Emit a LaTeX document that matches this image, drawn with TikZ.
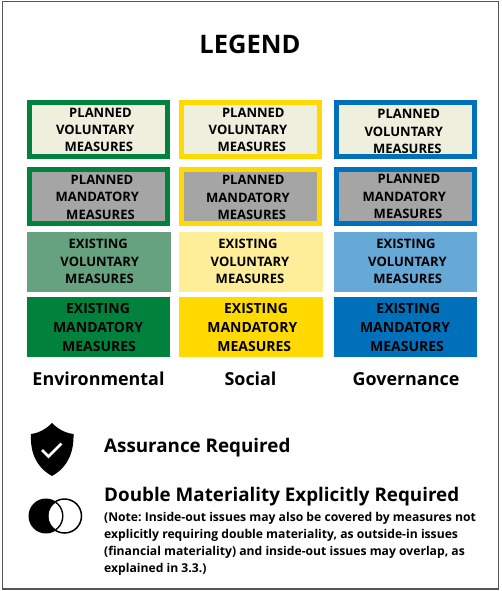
\documentclass[tikz,border=0pt]{standalone}
\usepackage{fontspec}
\setmainfont{Open Sans}
\usetikzlibrary{calc}
\definecolor{envgreen}{HTML}{00823C}
\definecolor{socyellow}{HTML}{FFD900}
\definecolor{govblue}{HTML}{0070BA}
\definecolor{envlight}{HTML}{66A27F}
\definecolor{soclight}{HTML}{FFEE99}
\definecolor{govlight}{HTML}{66A8D6}
\definecolor{cream}{HTML}{EFEFDE}
\definecolor{planfill}{HTML}{A5A5A5}
\definecolor{frameline}{HTML}{555555}
\tikzset{existbox/.style={rectangle, inner sep=0pt, outer sep=0pt, minimum width=143.5pt, minimum height=59.5pt}}
\tikzset{planbox/.style={existbox, line width=5.5pt, minimum width=138pt, minimum height=54pt}}
\tikzset{boxtext/.style={inner sep=0pt, font=\bfseries\fontsize{13}{14}\selectfont, text=black}}
\tikzset{bigtext/.style={boxtext, font=\bfseries\fontsize{14}{15}\selectfont}}
\tikzset{pillar/.style={inner sep=0pt, anchor=base, font=\bfseries\fontsize{17.9}{20}\selectfont}}
\tikzset{keytext/.style={inner sep=0pt, anchor=west, font=\bfseries\fontsize{18.8}{21}\selectfont}}

\begin{document}
\begin{tikzpicture}[x=1pt,y=-1pt]
  \useasboundingbox (0,0) rectangle (501,591);
  \draw[frameline, line width=1.5pt] (2.5,1.5) rectangle (498.5,589);
  \node[inner sep=0pt, font=\bfseries\fontsize{25.5}{28}\selectfont] (title) at (250,44) {LEGEND};
  % boxes
  \foreach \x/\y/\colfill/\coldraw/\lab in {
    98.5/129.7/cream/envgreen/pv1,
    250.5/129.7/cream/socyellow/pv2,
    405.5/129.7/cream/govblue/pv3,
    98.5/196.5/planfill/envgreen/pm1,
    250.5/196.5/planfill/socyellow/pm2,
    405.5/196.5/planfill/govblue/pm3%
  } {
    \node[planbox, fill=\colfill, draw=\coldraw] (\lab) at (\x, \y) {};
  }
  \foreach \x/\y/\colfill/\lab in {
    99/262/envlight/ev1,
    251/262/soclight/ev2,
    405.5/262/govlight/ev3,
    98.5/327/envgreen/em1,
    251/327/socyellow/em2,
    405.5/327/govblue/em3%
  } {
    \node[existbox, fill=\colfill] (\lab) at (\x, \y) {};
  }
  % box texts, one line at a time
  \foreach \lab/\sty/\wa/\wb/\xa/\xb/\xc/\ya/\yb/\yc in {
    pv1/boxtext/PLANNED/VOLUNTARY/100.5/95.3/98.8/112.7/130/147,
    pv2/boxtext/PLANNED/VOLUNTARY/253.3/248/251.8/112.7/130/147,
    pv3/boxtext/PLANNED/VOLUNTARY/408.7/403.8/407.3/114/132/149,
    pm1/boxtext/PLANNED/MANDATORY/102/97.3/100.5/180/197/214.5,
    pm2/boxtext/PLANNED/MANDATORY/253.3/248/251.8/180/198/215,
    pm3/boxtext/PLANNED/MANDATORY/409/404.3/408/179/197/214,
    ev1/boxtext/EXISTING/VOLUNTARY/98.2/99.7/99.5/244/261.5/279,
    ev2/boxtext/EXISTING/VOLUNTARY/248/250/250/244/262/279,
    ev3/boxtext/EXISTING/VOLUNTARY/406/407.5/407.7/244/262/279,
    em1/bigtext/EXISTING/MANDATORY/98/98/99/308/327/346,
    em2/bigtext/EXISTING/MANDATORY/256/252.3/254.3/308/327/346,
    em3/bigtext/EXISTING/MANDATORY/408.3/405/407/308/327/346%
  } {
    \node[\sty] (\lab-a) at (\xa, \ya) {\wa};
    \node[\sty] (\lab-b) at (\xb, \yb) {\wb};
    \node[\sty] (\lab-c) at (\xc, \yc) {MEASURES};
  }
  % column heads
  \node[pillar] (env) at (98.5,385.4) {Environmental};
  \node[pillar] (soc) at (250.5,385.4) {Social};
  \node[pillar] (gov) at (406,385.4) {Governance};
  % shield
  \fill (52,423) .. controls (58,429) and (65,433) .. (73.5,434)
    .. controls (74,452) and (68,467) .. (52,476)
    .. controls (36,467) and (30,452) .. (31,434)
    .. controls (39,433) and (46,429) .. (52,423) -- cycle;
  \draw[white, line width=2.8pt] (42,450) -- (48.5,456.5) -- (61.5,443.5);
  \node[keytext] (assur) at (104,447.5) {Assurance Required};
  % overlapping circles
  \fill (46,516) circle (17.5);
  \begin{scope}
    \clip (46,516) circle (16);
    \fill[white] (64.5,516) circle (16);
  \end{scope}
  \draw[line width=1.5pt] (64.5,516) circle (17);
  \node[keytext] (dbl) at (104,497) {Double Materiality Explicitly Required};
  \node[inner sep=0pt, anchor=north west, align=left, font=\bfseries\fontsize{12.15}{16.7}\selectfont\frenchspacing, text=black] (note) at (104,512.5) {(Note: Inside-out issues may also be covered by measures not\\explicitly requiring double materiality, as outside-in issues\\(financial materiality) and inside-out issues may overlap, as\\explained in 3.3.)};
\end{tikzpicture}
\end{document}
